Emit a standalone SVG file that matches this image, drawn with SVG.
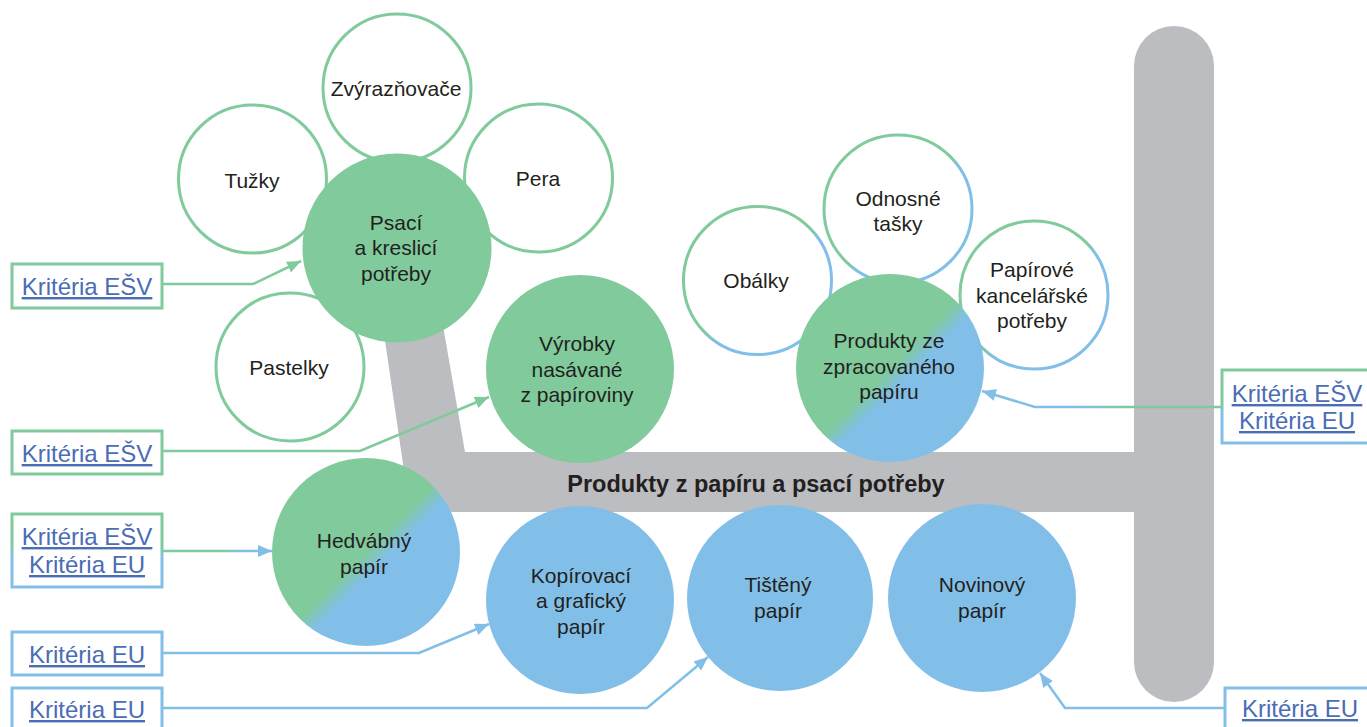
<svg xmlns="http://www.w3.org/2000/svg" width="1367" height="727" viewBox="0 0 1367 727">
<style>
.t{font-family:"Liberation Sans",Arial,sans-serif;font-size:21px;fill:#231F20;text-anchor:middle}
.title{font-family:"Liberation Sans",Arial,sans-serif;font-size:23.5px;font-weight:bold;fill:#231F20;text-anchor:middle}
.lk{font-family:"Liberation Sans",Arial,sans-serif;font-size:24px;fill:#4A6DB5;text-anchor:middle;text-decoration:underline}
.g{fill:#80CA9C}
.b{fill:#82BFE8}
.gb{fill:url(#diag)}
.wg{fill:#fff;stroke:#80CA9C;stroke-width:3}
.wgb{fill:#fff;stroke:url(#diag);stroke-width:3}
.boxg{fill:#fff;stroke:#80CA9C;stroke-width:3}
.boxb{fill:#fff;stroke:#82BFE8;stroke-width:3}
.boxgb{fill:#fff;stroke:url(#vert);stroke-width:3}
.cg{fill:none;stroke:#80CA9C;stroke-width:2.5;marker-end:url(#ag)}
.cb{fill:none;stroke:#82BFE8;stroke-width:2.5;marker-end:url(#ab)}
</style>
<defs>
<linearGradient id="diag" x1="0" y1="0" x2="1" y2="1">
<stop offset="0.5" stop-color="#80CA9C"/>
<stop offset="0.57" stop-color="#82BFE8"/>
</linearGradient>
<linearGradient id="vert" x1="0" y1="0" x2="0" y2="1">
<stop offset="0.45" stop-color="#80CA9C"/>
<stop offset="0.55" stop-color="#82BFE8"/>
</linearGradient>
<linearGradient id="h3" gradientUnits="userSpaceOnUse" x1="162" y1="0" x2="272" y2="0">
<stop offset="0.5" stop-color="#80CA9C"/>
<stop offset="0.77" stop-color="#82BFE8"/>
</linearGradient>
<linearGradient id="h4" gradientUnits="userSpaceOnUse" x1="1222" y1="0" x2="982" y2="0">
<stop offset="0.38" stop-color="#80CA9C"/>
<stop offset="0.61" stop-color="#82BFE8"/>
</linearGradient>
<marker id="ag" markerUnits="userSpaceOnUse" markerWidth="14" markerHeight="12" refX="14" refY="6" orient="auto">
<path d="M0,0 L14,6 L0,12 z" fill="#80CA9C"/>
</marker>
<marker id="ab" markerUnits="userSpaceOnUse" markerWidth="14" markerHeight="12" refX="14" refY="6" orient="auto">
<path d="M0,0 L14,6 L0,12 z" fill="#82BFE8"/>
</marker>
</defs>
<rect width="1367" height="727" fill="#fff"/>
<g id="trunk">
<polygon points="382,320 442,320 465,452 1140,452 1140,512 410,512" fill="#BCBDC0"/>
<rect x="1134" y="26" width="80" height="676" rx="40" ry="40" fill="#BCBDC0"/>
<text class="title" x="756" y="492">Produkty z papíru a psací potřeby</text>
</g>
<g id="zvyraznovace"><circle class="wg" cx="397" cy="88" r="74"/><text class="t" x="396" y="96">Zvýrazňovače</text></g>
<g id="tuzky"><circle class="wg" cx="252.5" cy="179" r="74"/><text class="t" x="252" y="188">Tužky</text></g>
<g id="pera"><circle class="wg" cx="538.5" cy="178" r="74"/><text class="t" x="538" y="186">Pera</text></g>
<g id="pastelky"><circle class="wg" cx="290" cy="367" r="74"/><text class="t" x="289" y="375">Pastelky</text></g>
<g id="psaci"><circle class="g" cx="397" cy="248" r="94.5"/><text class="t" x="396" y="230">Psací</text><text class="t" x="396" y="255">a kreslicí</text><text class="t" x="396" y="281">potřeby</text></g>
<g id="vyrobky"><circle class="g" cx="580" cy="369" r="94"/><text class="t" x="577" y="351">Výrobky</text><text class="t" x="577" y="377">nasávané</text><text class="t" x="577" y="402">z papíroviny</text></g>
<g id="obalky"><circle class="wgb" cx="757.5" cy="280.5" r="74"/><text class="t" x="756" y="288">Obálky</text></g>
<g id="odnosne"><circle class="wgb" cx="898" cy="209" r="74"/><text class="t" x="898" y="206">Odnosné</text><text class="t" x="898" y="231">tašky</text></g>
<g id="papirove"><circle class="wgb" cx="1034" cy="295" r="74"/><text class="t" x="1032" y="277">Papírové</text><text class="t" x="1032" y="303">kancelářské</text><text class="t" x="1032" y="328">potřeby</text></g>
<g id="zpracovany"><circle class="gb" cx="890" cy="368" r="94"/><text class="t" x="889" y="348">Produkty ze</text><text class="t" x="889" y="374">zpracovaného</text><text class="t" x="889" y="399">papíru</text></g>
<g id="hedvabny"><circle class="gb" cx="366" cy="552" r="94"/><text class="t" x="364" y="548">Hedvábný</text><text class="t" x="364" y="574">papír</text></g>
<g id="kopirovaci"><circle class="b" cx="580" cy="600" r="94"/><text class="t" x="581" y="583">Kopírovací</text><text class="t" x="581" y="608">a grafický</text><text class="t" x="581" y="634">papír</text></g>
<g id="tisteny"><circle class="b" cx="780" cy="598" r="93"/><text class="t" x="778" y="592">Tištěný</text><text class="t" x="778" y="618">papír</text></g>
<g id="novinovy"><circle class="b" cx="982" cy="598" r="94"/><text class="t" x="982" y="592">Novinový</text><text class="t" x="982" y="618">papír</text></g>
<g id="label-esv-1"><rect class="boxg" x="12" y="264" width="150" height="44"/><text class="lk" x="87" y="295">Kritéria EŠV</text></g>
<g id="label-esv-2"><rect class="boxg" x="12" y="431" width="150" height="43"/><text class="lk" x="87" y="462">Kritéria EŠV</text></g>
<g id="label-esv-eu-1"><rect class="boxgb" x="12" y="514" width="150" height="73"/><text class="lk" x="87" y="545">Kritéria EŠV</text><text class="lk" x="87" y="573">Kritéria EU</text></g>
<g id="label-esv-eu-2"><rect class="boxgb" x="1222" y="370" width="150" height="73"/><text class="lk" x="1297" y="402">Kritéria EŠV</text><text class="lk" x="1297" y="429">Kritéria EU</text></g>
<g id="label-eu-1"><rect class="boxb" x="12" y="632" width="150" height="43"/><text class="lk" x="87" y="663">Kritéria EU</text></g>
<g id="label-eu-2"><rect class="boxb" x="12" y="688" width="150" height="60"/><text class="lk" x="87" y="718">Kritéria EU</text></g>
<g id="label-eu-3"><rect class="boxb" x="1225" y="688" width="150" height="60"/><text class="lk" x="1300" y="717">Kritéria EU</text></g>
<g id="connectors">
<path class="cg" d="M162,284 L253,284 L301,261"/>
<path class="cg" d="M162,451 L360,451 L489,397"/>
<path class="cb" d="M162,551 L272,551" style="stroke:url(#h3)"/>
<path class="cb" d="M1222,407 L1035,407 L982,391" style="stroke:url(#h4)"/>
<path class="cb" d="M162,653 L419,653 L489,624"/>
<path class="cb" d="M162,708 L647,708 L708,657"/>
<path class="cb" d="M1225,708 L1065,708 L1040,673"/>
</g>
</svg>
